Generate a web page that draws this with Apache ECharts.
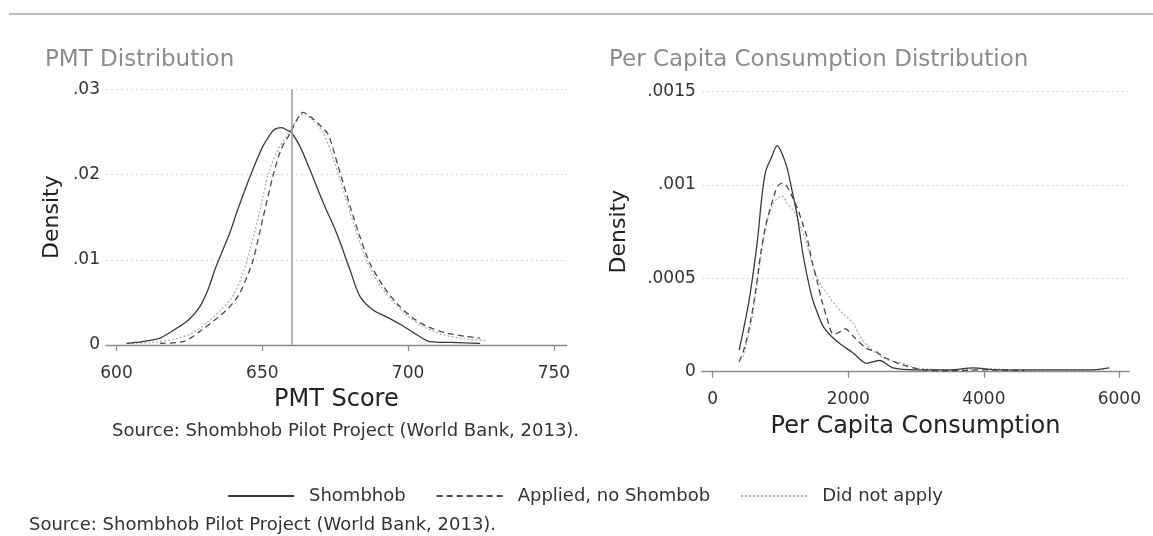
<!DOCTYPE html>
<html>
<head>
<meta charset="utf-8">
<script src="https://cdn.jsdelivr.net/npm/echarts@6/dist/echarts.min.js"></script>
<style>
html,body{margin:0;padding:0;background:#fff;}
#chart{width:1153px;height:536px;}
</style>
</head>
<body>
<div id="chart"></div>
<script>
// ---------- DATA ----------
const seriesNames = ['Shombhob', 'Applied, no Shombob', 'Did not apply'];

const pmtTicks = [600, 650, 700, 750];
const pmtDensityTicks = [0, 0.01, 0.02, 0.03];
const pmtCutoff = 660;

const pmtShombhob = [
  [603.4,0.0002],[609,0.0004],[614.9,0.0008],[619.4,0.0017],[624.6,0.0029],[628.6,0.0045],
  [631.4,0.0065],[633.7,0.0088],[636.3,0.0110],[638.8,0.0131],[641.5,0.0158],[644.5,0.0186],
  [647.5,0.0212],[650.2,0.0233],[652.5,0.0246],[654.2,0.0253],[656.5,0.0255],[658,0.0253],
  [660,0.0249],[662.9,0.0233],[666.3,0.0206],[670.9,0.0167],[675.5,0.0131],[680.1,0.0088],
  [683.5,0.0057],[688,0.0041],[693.8,0.0031],[698.4,0.0022],[703,0.0012],[707.5,0.0004],
  [715,0.0003],[724.7,0.0002]
];
const pmtApplied = [
  [614.9,0.0002],[622.9,0.0004],[628.6,0.0016],[634.3,0.0031],[638.9,0.0045],[642.3,0.0061],
  [645.2,0.0084],[646.9,0.0100],[650.3,0.0150],[653.8,0.0200],[656.5,0.0230],[659.5,0.0248],
  [661.5,0.0262],[664,0.0273],[667.5,0.0265],[670,0.0257],[672.6,0.0247],[676,0.0210],
  [680.1,0.0163],[683.5,0.0127],[686.9,0.0096],[691.5,0.0069],[696.1,0.0049],[701.2,0.0033],
  [706.4,0.0022],[713.3,0.0014],[720.1,0.0010],[724.7,0.0008]
];
const pmtNotApply = [
  [604,0.0002],[612,0.0003],[620,0.0007],[626,0.0014],[631,0.0026],[636,0.0042],[640,0.0058],
  [643.5,0.0085],[646,0.0115],[649,0.0155],[652,0.0200],[655.5,0.0230],[659,0.0248],
  [661.5,0.0262],[664,0.0271],[667,0.0265],[671,0.0248],[675,0.0212],[679,0.0168],
  [682.5,0.0130],[686,0.0097],[690,0.0072],[695,0.0050],[700,0.0034],[705,0.0022],
  [712,0.0012],[720,0.0007],[727,0.0005]
];

const pcTicks = [0, 2000, 4000, 6000];
const pcDensityTicks = [0, 0.0005, 0.001, 0.0015];

const pcShombhob = [
  [390,0.000115],[536,0.00038],[659,0.0007],[720,0.00092],[780,0.00107],[870,0.00115],
  [952,0.00121],[1020,0.00117],[1098,0.00109],[1170,0.00097],[1245,0.00084],[1341,0.00061],
  [1464,0.0004],[1560,0.0003],[1634,0.00024],[1750,0.00019],[1878,0.00015],[2073,0.0001],
  [2269,0.000045],[2464,0.00006],[2659,0.00002],[3000,0.00001],[3500,0.00001],[3840,0.00002],
  [4200,0.00001],[5000,0.00001],[5600,0.00001],[5850,0.00002]
];
const pcApplied = [
  [390,0.000053],[470,0.00013],[561,0.000275],[640,0.00045],[707,0.00063],[780,0.00078],
  [854,0.00088],[930,0.00097],[975,0.001],[1030,0.00101],[1098,0.00099],[1170,0.00094],
  [1245,0.00088],[1320,0.0008],[1391,0.00072],[1460,0.0006],[1537,0.00049],[1610,0.00038],
  [1684,0.00029],[1781,0.0002],[1860,0.00021],[1952,0.00023],[2073,0.00019],[2269,0.000125],
  [2416,0.000106],[2513,0.00008],[2805,0.000036],[3098,0.00001],[3500,0.000005],[4000,0.00001],
  [4600,0.000005]
];
const pcNotApply = [
  [450,0.00008],[560,0.00025],[650,0.00045],[720,0.00064],[800,0.0008],[880,0.00089],
  [960,0.00093],[1025,0.00094],[1100,0.0009],[1195,0.00086],[1290,0.00078],[1391,0.00068],
  [1500,0.00054],[1600,0.00046],[1684,0.00042],[1800,0.00036],[1927,0.00031],[2073,0.00026],
  [2171,0.00019],[2318,0.000125],[2450,0.00009],[2610,0.00006],[2805,0.000045],[3000,0.00002],
  [3500,0.00001],[4000,0.000015],[4500,0.00001],[5000,0.000008],[5800,0.00001]
];

// ---------- STYLE ----------
const FONT = 'DejaVu Sans';
const styles = [
  {color:'#3a3a3a', type:'solid', width:1.3},
  {color:'#4a4a4a', type:[6,4], width:1.3},
  {color:'#b0b0b0', type:[2,2], width:1.3}
];
function fmt(v){
  const n = Number(Number(v).toPrecision(6));
  if (n === 0) return '0';
  return String(n).replace(/^0\./, '.');
}
function xAxisCfg(gridIndex, min, max, ticks, name){
  return {
    type:'value', gridIndex, min, max, position:'bottom', offset:11.6,
    name, nameLocation:'middle', nameGap:31,
    nameTextStyle:{fontFamily:FONT, fontSize:24, color:'#222'},
    axisLine:{show:true, lineStyle:{color:'#8a8a8a', width:1.3}},
    axisTick:{show:true, customValues:ticks, length:6, lineStyle:{color:'#8a8a8a', width:1.3}},
    axisLabel:{customValues:ticks, fontFamily:FONT, fontSize:17, color:'#333', margin:8, formatter:fmt},
    splitLine:{show:false}
  };
}
function yAxisCfg(gridIndex, max, interval, nameGap){
  return {
    type:'value', gridIndex, min:0, max, interval,
    name:'Density', nameLocation:'middle', nameGap, nameRotate:90,
    nameTextStyle:{fontFamily:FONT, fontSize:22, color:'#222'},
    axisLine:{show:false}, axisTick:{show:false},
    axisLabel:{fontFamily:FONT, fontSize:17, color:'#333', margin:6, formatter:fmt},
    splitLine:{show:true, lineStyle:{color:'#d4d4d4', type:[2,3], width:1}}
  };
}
function mkSeries(i, data, axisIdx, extra){
  return Object.assign({
    type:'line', name:seriesNames[i], data, xAxisIndex:axisIdx, yAxisIndex:axisIdx,
    showSymbol:false, symbol:'none', smooth:0.3, animation:false,
    lineStyle:{color:styles[i].color, type:styles[i].type, width:styles[i].width},
    itemStyle:{color:styles[i].color}, z: 3 - i
  }, extra || {});
}

const chart = echarts.init(document.getElementById('chart'), null, {renderer:'canvas'});
chart.setOption({
  animation:false,
  backgroundColor:'#fff',
  title:[
    {text:'PMT Distribution', left:40, top:44, textStyle:{fontFamily:FONT, fontSize:23, fontWeight:'normal', color:'#8c8c8c'}},
    {text:'Per Capita Consumption Distribution', left:604, top:44, textStyle:{fontFamily:FONT, fontSize:23, fontWeight:'normal', color:'#8c8c8c'}},
    {text:'Source: Shombhob Pilot Project (World Bank, 2013).', left:107, top:417, textStyle:{fontFamily:FONT, fontSize:18, fontWeight:'normal', color:'#333'}},
    {text:'Source: Shombhob Pilot Project (World Bank, 2013).', left:24, top:511, textStyle:{fontFamily:FONT, fontSize:18, fontWeight:'normal', color:'#333'}}
  ],
  graphic:[
    {type:'line', shape:{x1:9, y1:14, x2:1153, y2:14}, style:{stroke:'#bdbdbd', lineWidth:2}}
  ],
  legend:{
    data:seriesNames, left:222, top:482, itemWidth:66, itemHeight:14, itemGap:30,
    textStyle:{fontFamily:FONT, fontSize:18, color:'#333', padding:[0,0,0,10]},
    itemStyle:{opacity:0},
    lineStyle:{width:2}
  },
  grid:[
    {left:106, right:586.3, top:89.3, bottom:191, containLabel:false},
    {left:701.8, right:23.8, top:91.5, bottom:164.3, containLabel:false}
  ],
  xAxis:[
    xAxisCfg(0, 596.4, 754.4, pmtTicks, 'PMT Score'),
    xAxisCfg(1, -161, 6145, pcTicks, 'Per Capita Consumption')
  ],
  yAxis:[
    yAxisCfg(0, 0.03, 0.01, 43),
    yAxisCfg(1, 0.0015, 0.0005, 72)
  ],
  series:[
    mkSeries(0, pmtShombhob, 0, {
      markLine:{silent:true, symbol:['none','none'], label:{show:false},
        lineStyle:{color:'#a0a0a0', type:'solid', width:1.6},
        data:[{xAxis:pmtCutoff}]}
    }),
    mkSeries(1, pmtApplied, 0),
    mkSeries(2, pmtNotApply, 0),
    mkSeries(0, pcShombhob, 1),
    mkSeries(1, pcApplied, 1),
    mkSeries(2, pcNotApply, 1)
  ]
});
</script>
</body>
</html>
